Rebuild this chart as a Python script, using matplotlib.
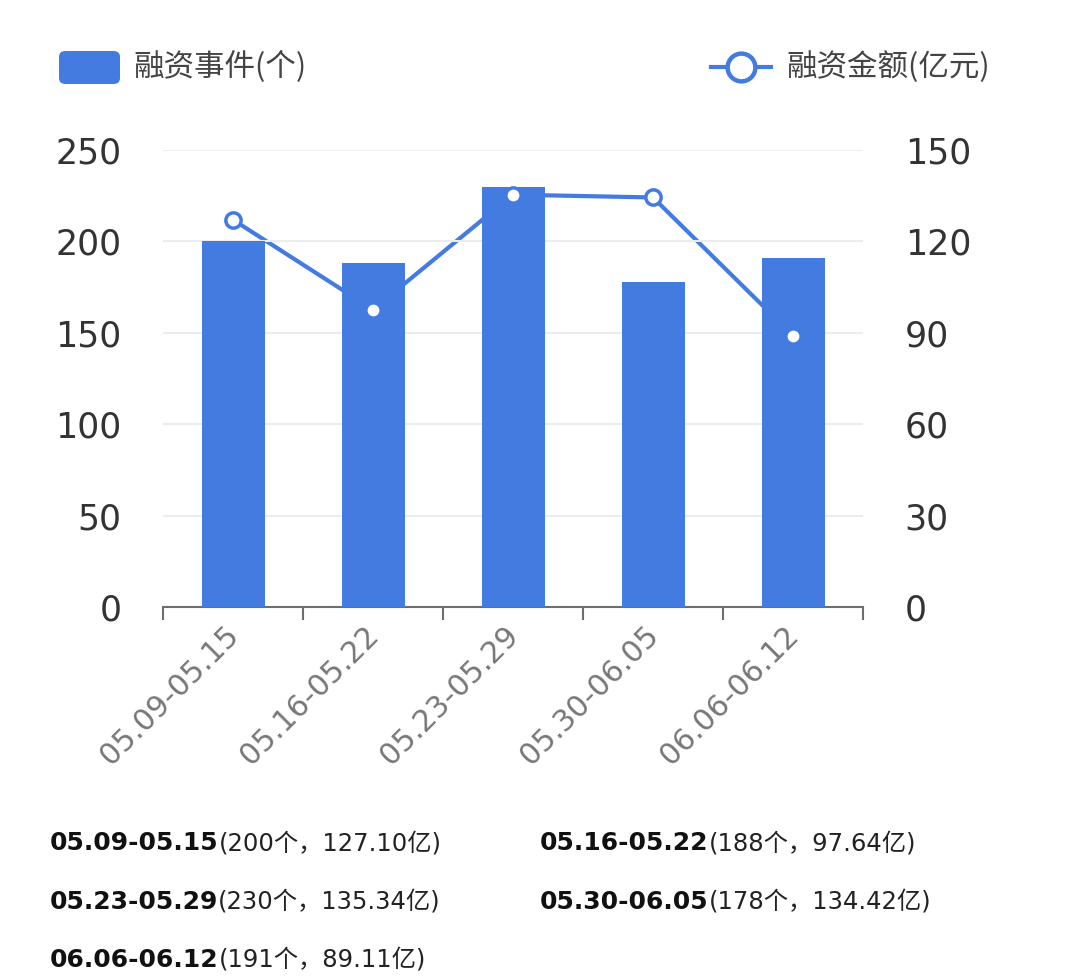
import matplotlib
matplotlib.use("Agg")
import matplotlib.pyplot as plt
import matplotlib.transforms as mtransforms
from matplotlib.patches import FancyBboxPatch
from matplotlib.lines import Line2D
import numpy as np

plt.rcParams['font.family'] = ['Noto Sans CJK SC', 'DejaVu Sans']

categories = ["05.09-05.15", "05.16-05.22", "05.23-05.29", "05.30-06.05", "06.06-06.12"]
events = [200, 188, 230, 178, 191]
amounts = [127.10, 97.64, 135.34, 134.42, 89.11]
left_ticks = [0, 50, 100, 150, 200, 250]
right_ticks = [0, 30, 60, 90, 120, 150]
legend_bar = "融资事件(个)"
legend_line = "融资金额(亿元)"

BLUE = '#437be0'
W, H = 1080, 976
fig = plt.figure(figsize=(W / 100, H / 100), dpi=100)

def fx(px):
    return px / W

def fy(py):
    return 1 - py / H

ax = fig.add_axes([fx(163), fy(607), fx(863) - fx(163), fy(150) - fy(607)])
ax2 = ax.twinx()

x = np.arange(len(categories))
ax.set_zorder(2)
ax2.set_zorder(1)
ax.patch.set_visible(False)

ax.bar(x, events, width=0.45, color=BLUE, zorder=3)
ax2.plot(x, amounts, color=BLUE, lw=3, zorder=2, solid_capstyle='round')

ax.set_xlim(-0.5, len(categories) - 0.5)
ax.set_ylim(0, 250)
ax2.set_ylim(0, 150)
ax.set_yticks(left_ticks)
ax2.set_yticks(right_ticks)

# markers drawn above bars (converted to left-axis scale)
for xi, a in zip(x, amounts):
    y_ax = a / 150 * 250
    ax.plot([xi], [y_ax], marker='o', ms=11, mfc='white', mec=BLUE, mew=2.5, zorder=5, clip_on=False)

for a in (ax, ax2):
    for s in ['top', 'left', 'right', 'bottom']:
        a.spines[s].set_visible(False)
ax.spines['bottom'].set_visible(True)
ax.spines['bottom'].set_color('#6e6e6e')
ax.spines['bottom'].set_linewidth(1.5)

ax.yaxis.grid(True, color='#ececec', lw=1.5, zorder=0)
ax.set_axisbelow(True)
ax.tick_params(axis='y', length=0, pad=30, labelsize=25, labelcolor='#333333')
ax2.tick_params(axis='y', length=0, pad=30, labelsize=25, labelcolor='#333333')
for lab in ax.get_yticklabels() + ax2.get_yticklabels():
    lab.set_family(['DejaVu Sans'])
ax2.grid(False)

ax.set_xticks(x)
ax.set_xticklabels(categories, rotation=45, ha='right', rotation_mode='anchor',
                   fontsize=21.5, color='#777777', family=['DejaVu Sans'])
ax.tick_params(axis='x', which='major', length=0, pad=10)
offset = mtransforms.ScaledTranslation(-9 / 100, 0, fig.dpi_scale_trans)
for lab in ax.get_xticklabels():
    lab.set_transform(lab.get_transform() + offset)
ax.set_xticks(np.arange(-0.5, len(categories), 1.0), minor=True)
ax.tick_params(axis='x', which='minor', length=9, width=1.5, color='#6e6e6e')

# legend: bar
fig.patches.append(FancyBboxPatch((fx(59), fy(84)), fx(120) - fx(59), fy(51) - fy(84),
                                  boxstyle='round,pad=0,rounding_size=0.006',
                                  transform=fig.transFigure, fc=BLUE, ec='none'))
fig.text(fx(133), fy(67), legend_bar, fontsize=22, color='#444444', va='center', ha='left')

# legend: line
fig.lines.append(Line2D([fx(711), fx(771)], [fy(67), fy(67)], color=BLUE, lw=3,
                        transform=fig.transFigure))
fig.lines.append(Line2D([fx(741)], [fy(67)], marker='o', ms=20, mfc='white', mec=BLUE, mew=3.2,
                        transform=fig.transFigure))
fig.text(fx(786), fy(67), legend_line, fontsize=22, color='#444444', va='center', ha='left')

# bottom summary
positions = [(50, 843), (540, 843), (50, 902), (540, 902), (50, 960)]
for cat, e, a, (px, py) in zip(categories, events, amounts, positions):
    t = fig.text(fx(px), fy(py), cat, fontsize=18, fontweight='bold', color='#111111',
                 va='center', ha='left', family=['DejaVu Sans'])
    ax.annotate(f"({e}个，{a:.2f}亿)", xy=(1, 0.5), xycoords=t, va='center', ha='left',
                fontsize=17.5, color='#222222', annotation_clip=False,
                family=['DejaVu Sans', 'Noto Sans CJK SC'])

fig.savefig('out.png', dpi=100, facecolor='white')
